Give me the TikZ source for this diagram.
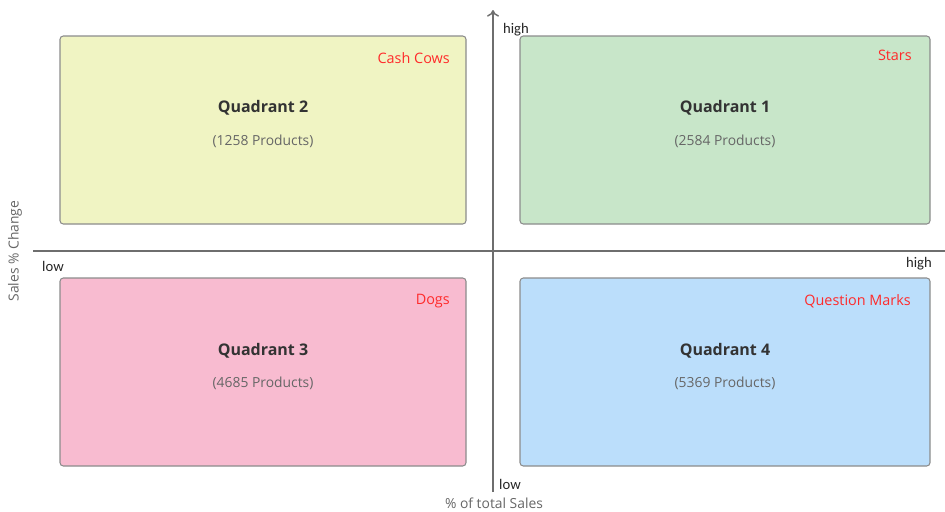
\documentclass[tikz,border=0pt]{standalone}
\usepackage{fontspec}
\setmainfont{Open Sans}
\newfontfamily\axisfont{Carlito}
\usetikzlibrary{arrows.meta}
\definecolor{qyellow}{HTML}{F0F4C3}
\definecolor{qgreen}{HTML}{C8E6C9}
\definecolor{qpink}{HTML}{F8BBD0}
\definecolor{qblue}{HTML}{BBDEFB}
\definecolor{boxborder}{HTML}{8C8C8C}
\definecolor{axisgray}{HTML}{6E6E6E}
\definecolor{titletext}{HTML}{333333}
\definecolor{subtext}{HTML}{666666}
\definecolor{tagred}{HTML}{FF2A2A}
\tikzset{
  quadbox/.style={draw=boxborder, line width=0.8pt, rounded corners=2.5pt, minimum width=406*0.75pt, minimum height=188*0.75pt, inner sep=0pt},
  qtitle/.style={font=\fontsize{12}{14}\selectfont\bfseries, text=titletext},
  qsub/.style={font=\fontsize{10.4}{12}\selectfont, text=subtext},
  qtag/.style={font=\fontsize{10.8}{12}\selectfont, text=tagred, anchor=east, inner sep=0pt},
  axislbl/.style={font=\axisfont\fontsize{11}{13}\selectfont, text=black!85},
  axisname/.style={font=\fontsize{10.4}{12}\selectfont, text=subtext, inner sep=1pt},
  axisline/.style={draw=axisgray, line width=1.1pt}
}
\begin{document}
\begin{tikzpicture}[x=0.75pt,y=-0.75pt]
\useasboundingbox (0,0) rectangle (945,511);
% boxes
\node[quadbox, fill=qyellow] (q2) at (263,130) {};
\node[quadbox, fill=qgreen, minimum width=410*0.75pt] (q1) at (725,130) {};
\node[quadbox, fill=qpink] (q3) at (263,372) {};
\node[quadbox, fill=qblue, minimum width=410*0.75pt] (q4) at (725,372) {};
% texts
\node[qtitle] (t2) at (263,108) {Quadrant 2};
\node[qsub] (s2) at (263,141) {(1258 Products)};
\node[qtag] (c2) at (450,58) {Cash Cows};
\node[qtitle] (t1) at (725,108) {Quadrant 1};
\node[qsub] (s1) at (725,141) {(2584 Products)};
\node[qtag] (c1) at (912,55) {Stars};
\node[qtitle] (t3) at (263,351) {Quadrant 3};
\node[qsub] (s3) at (263,383) {(4685 Products)};
\node[qtag] (c3) at (450,301) {Dogs};
\node[qtitle] (t4) at (725,351) {Quadrant 4};
\node[qsub] (s4) at (725,383) {(5369 Products)};
\node[qtag] (c4) at (911,301) {Question Marks};
% axes
\coordinate (hl) at (33,251);
\coordinate (hr) at (945,251);
\coordinate (vb) at (493,492);
\coordinate (vt) at (493,10);
\draw[axisline] (hl) -- (hr);
\draw[axisline, -{To[length=5pt,width=9pt]}] (vb) -- (vt);
% axis labels
\node[axislbl] (hightop) at (516,30) {high};
\node[axislbl] (lowleft) at (53,266) {low};
\node[axislbl] (highright) at (919,264) {high};
\node[axislbl] (lowbottom) at (510,484) {low};
\node[axisname] (xname) at (494,503) {\% of total Sales};
\node[axisname, rotate=90] (yname) at (15,251) {Sales \% Change};
\end{tikzpicture}
\end{document}
